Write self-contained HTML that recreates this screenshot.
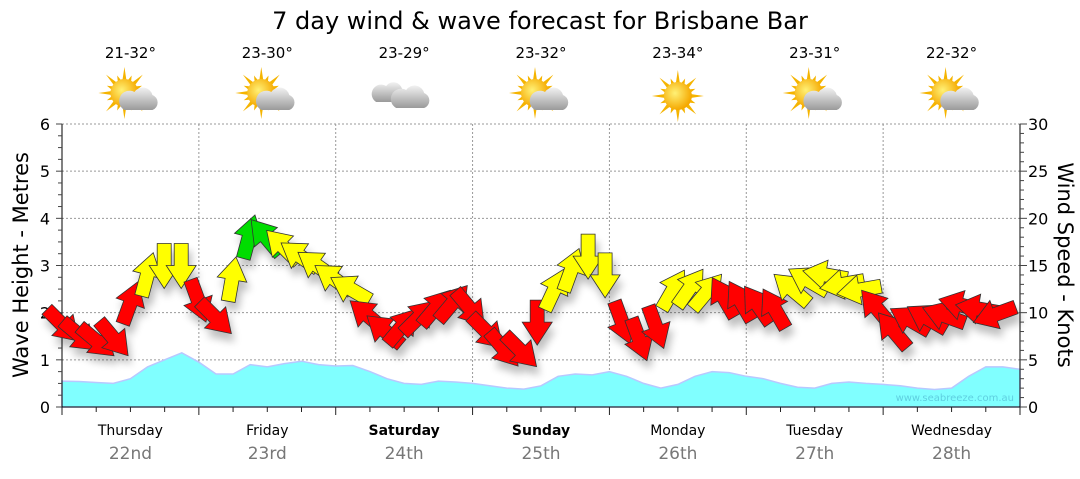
<!DOCTYPE html>
<html><head><meta charset="utf-8"><style>
body{margin:0;background:#fff;width:1080px;height:475px;overflow:hidden;font-family:"DejaVu Sans",sans-serif}
</style></head><body>
<svg id="c" width="1080" height="475" viewBox="0 0 1080 475" font-family="DejaVu Sans, Liberation Sans, sans-serif">
<defs>
<filter id="sh" x="-50%" y="-50%" width="200%" height="200%"><feGaussianBlur in="SourceAlpha" stdDeviation="4"/><feOffset dx="3" dy="8"/><feComponentTransfer><feFuncA type="linear" slope="0.25"/></feComponentTransfer><feMerge><feMergeNode/><feMergeNode in="SourceGraphic"/></feMerge></filter>
<radialGradient id="sun" cx="0.4" cy="0.4" r="0.6"><stop offset="0" stop-color="#fff176"/><stop offset="1" stop-color="#f5a800"/></radialGradient>
<linearGradient id="cl" x1="0" y1="0" x2="0" y2="1"><stop offset="0" stop-color="#f2f2f2"/><stop offset="1" stop-color="#9a9a9a"/></linearGradient>
</defs>
<text x="540" y="29" text-anchor="middle" font-size="24" fill="#000">7 day wind &amp; wave forecast for Brisbane Bar</text>
<g id="grid"></g><g id="wave"></g><g id="axes"></g><g id="arrows" filter="url(#sh)"></g><g id="top"></g>
<text x="22" y="265" font-size="21" text-anchor="middle" dominant-baseline="middle" transform="rotate(-90 22 265)">Wave Height - Metres</text>
<text x="1064" y="265" font-size="21" text-anchor="middle" dominant-baseline="middle" transform="rotate(90 1064 265)">Wind Speed - Knots</text>
<text x="1014" y="401" font-size="10" text-anchor="end" fill="#5fcfe0">www.seabreeze.com.au</text>
</svg>
<script>
const days=["Thursday","Friday","Saturday","Sunday","Monday","Tuesday","Wednesday"];
const dates=["22nd","23rd","24th","25th","26th","27th","28th"];
const temps=["21-32°","23-30°","23-29°","23-32°","23-34°","23-31°","22-32°"];
const icons=["partly","partly","cloudy","partly","sunny","partly","partly"];
const waveHeights=[0.55,0.54,0.52,0.5,0.6,0.85,1.0,1.15,0.95,0.7,0.7,0.9,0.85,0.92,0.97,0.9,0.87,0.88,0.75,0.6,0.5,0.48,0.55,0.53,0.5,0.45,0.4,0.38,0.45,0.65,0.7,0.68,0.75,0.65,0.5,0.4,0.48,0.65,0.75,0.73,0.65,0.6,0.5,0.42,0.4,0.5,0.53,0.5,0.48,0.45,0.4,0.37,0.4,0.65,0.85,0.85,0.8];
const windSpeeds=[8.7,7.6,7,7.3,11,14,15,15,11.3,9.5,13.5,18,18,17,16,15,13.6,12.5,9.7,8.1,8.5,9.5,10.5,11,10.5,8,6.2,6,9,12.4,14.5,16,14,9,7.2,8.5,12.4,12.6,12.2,11.6,11.2,10.8,10.4,12.5,13.4,14,13,12.4,10.5,8.1,9.2,9.4,9.7,10.8,10.4,9.8];
const windDirs=[135,130,130,140,20,15,180,180,160,135,10,15,-40,-45,-55,-55,-55,-60,-50,-50,40,45,40,40,140,135,140,135,180,25,20,180,180,160,160,160,30,35,40,-30,-30,-35,-30,-50,-60,-80,-100,-100,-40,-40,-60,-60,-70,-75,-80,-110];
const svg=document.getElementById('c'),NS="http://www.w3.org/2000/svg";
const X0=62,X1=1020,Y0=407,Y1=124,days7=7;
const xDay=d=>X0+(X1-X0)*d/days7;
const xStep=(i,n)=>X0+(X1-X0)*i/n;
const yM=v=>Y0-(Y0-Y1)*v/6;
const yK=v=>Y0-(Y0-Y1)*v/30;
function mk(t,a,p){const e=document.createElementNS(NS,t);for(const k in a)e.setAttribute(k,a[k]);(p||svg).appendChild(e);return e;}
const G=id=>document.getElementById(id);
for(let v=1;v<=6;v++){const l=mk('line',{x1:X0,x2:X1,y1:yM(v),y2:yM(v),stroke:'#999','stroke-dasharray':'2,2','stroke-width':1},G('grid'));

}
for(let d=1;d<7;d++){const l=mk('line',{x1:xDay(d),x2:xDay(d),y1:Y1,y2:Y0,stroke:'#999','stroke-dasharray':'2,2'},G('grid'));

}
let pts=waveHeights.map((v,i)=>xStep(i,waveHeights.length-1).toFixed(1)+','+yM(v).toFixed(1));
const wa=mk('polygon',{points:X0+','+Y0+' '+pts.join(' ')+' '+X1+','+Y0,fill:'#80ffff',stroke:'#b8c8ff','stroke-width':1.5},G('wave'));


const A=G('axes');
mk('line',{x1:X0,x2:X0,y1:Y1,y2:Y0+6,stroke:'#000'},A);
mk('line',{x1:X1,x2:X1,y1:Y1,y2:Y0,stroke:'#000'},A);
mk('line',{x1:X0,x2:X1,y1:Y0,y2:Y0,stroke:'#000'},A);
for(let i=0;i<=24;i++){const y=yM(i/4);mk('line',{x1:X0-(i%4?4:6),x2:X0,y1:y,y2:y,stroke:'#444'},A);}
for(let v=0;v<=6;v++){const t=mk('text',{x:50,y:yM(v)+6,'text-anchor':'end','font-size':16},A);t.textContent=v;

}
for(let i=0;i<=30;i++){const y=yK(i);mk('line',{x1:X1,x2:X1+(i%5?4:7),y1:y,y2:y,stroke:'#444'},A);}
for(let v=0;v<=30;v+=5){const t=mk('text',{x:1028,y:yK(v)+6,'font-size':16},A);t.textContent=v;

}
for(let i=0;i<=28;i++){const x=xStep(i,28);mk('line',{x1:x,x2:x,y1:Y0,y2:Y0+(i%4?5:8),stroke:'#222'},A);}
days.forEach((d,i)=>{const cx=(xDay(i)+xDay(i+1))/2;
const t=mk('text',{x:cx,y:435,'text-anchor':'middle','font-size':14,'font-weight':(i==2||i==3)?'bold':'normal'},A);t.textContent=d;


const t2=mk('text',{x:cx,y:459,'text-anchor':'middle','font-size':17,fill:'#777'},A);t2.textContent=dates[i];


const t3=mk('text',{x:cx,y:58,'text-anchor':'middle','font-size':15},G('top'));t3.textContent=temps[i];


const g=mk('g',{transform:'translate('+cx+',96)'},G('top'));


if(icons[i]!='cloudy'){const sx=icons[i]=='sunny'?0:-6,sy=icons[i]=='sunny'?0:-3;
for(let k=0;k<16;k++){const a=k*Math.PI/8,r=k%2?19:26;mk('polygon',{points:[sx+Math.cos(a)*r,sy+Math.sin(a)*r,sx+Math.cos(a+0.18)*12,sy+Math.sin(a+0.18)*12,sx+Math.cos(a-0.18)*12,sy+Math.sin(a-0.18)*12].join(','),fill:'#f5b400'},g);}
mk('circle',{cx:sx,cy:sy,r:14,fill:'url(#sun)'},g);}
if(icons[i]=='partly'){mk('path',{d:'M-6,14 h28 a8,8 0 0 0 0,-15 a10,10 0 0 0 -18,-3 a8,8 0 0 0 -10,18z',fill:'url(#cl)'},g);}
if(icons[i]=='cloudy'){mk('path',{d:'M-28,6 h26 a7,7 0 0 0 0,-13 a9,9 0 0 0 -16,-3 a7,7 0 0 0 -10,16z',fill:'url(#cl)'},g);
mk('path',{d:'M-8,12 h28 a8,8 0 0 0 0,-15 a10,10 0 0 0 -18,-3 a8,8 0 0 0 -10,18z',fill:'url(#cl)'},g);}
});
const AR=G('arrows');
windSpeeds.forEach((v,i)=>{const x=xStep(i+0.5,windSpeeds.length+0.5)-8,y=yK(v);
const col=v>=17.5?'#00dd00':(v>=12?'#ffff00':'#ff0000');
const p=mk('polygon',{points:'-7,22 7,22 7,0 15,0 0,-23 -15,0 -7,0',fill:col,stroke:'#333','stroke-width':0.8,transform:'translate('+x.toFixed(1)+','+y.toFixed(1)+') rotate('+windDirs[i]+')'},AR);

});
</script>
</body></html>
